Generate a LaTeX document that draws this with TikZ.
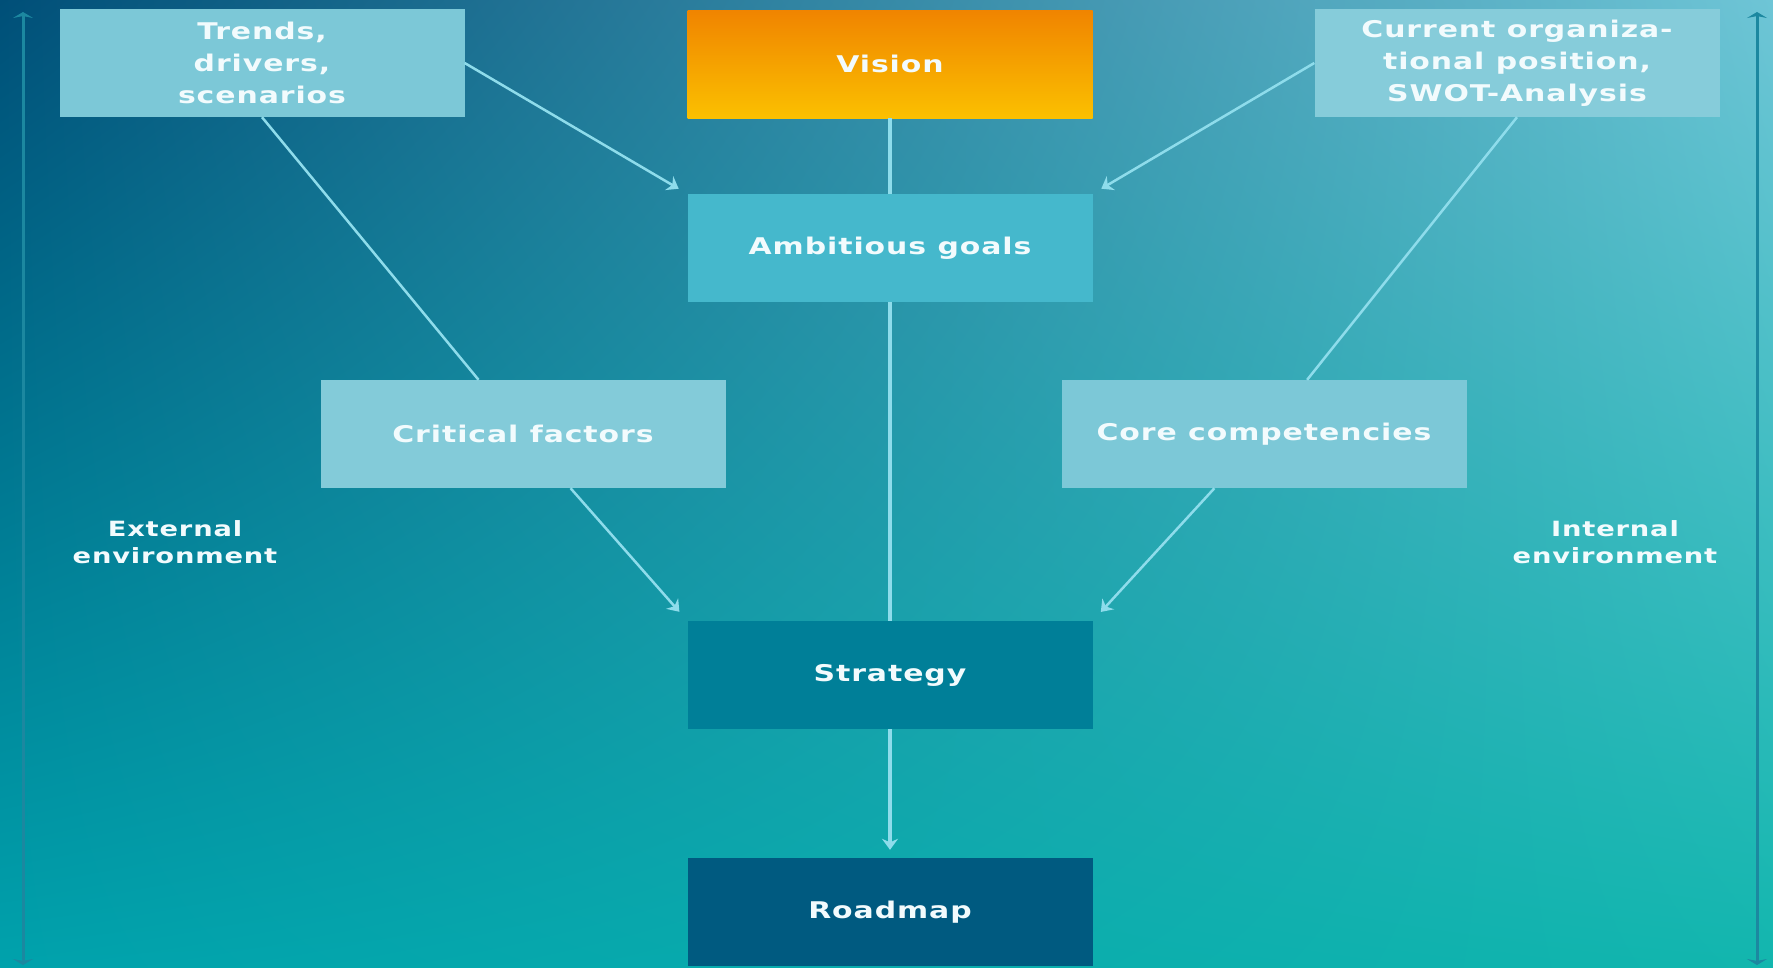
\documentclass[tikz,border=0pt]{standalone}
\usepackage{fontspec}
\newfontfamily\boxfont[FakeStretch=1.3,LetterSpace=4]{DejaVu Sans}
\usetikzlibrary{arrows.meta,shadings}

\definecolor{bgtl}{HTML}{004F78}
\definecolor{bgtr}{HTML}{6EC5D6}
\definecolor{bgbl}{HTML}{00A2AC}
\definecolor{bgbr}{HTML}{12B6AE}
\definecolor{lightbox}{HTML}{7CC8D7}
\definecolor{goalbox}{HTML}{45B8CC}
\definecolor{stratbox}{HTML}{007F98}
\definecolor{roadbox}{HTML}{005A80}
\definecolor{visiontop}{HTML}{F08400}
\definecolor{visionbot}{HTML}{FBC000}
\definecolor{linkcol}{HTML}{8EDCEB}
\definecolor{sidecol}{HTML}{1C88A0}
\definecolor{boxtext}{HTML}{F2FBFD}

\tikzset{
	box/.style={rectangle,minimum width=405pt,minimum height=108pt,inner sep=0pt,
		align=center,text=boxtext,font=\boxfont\bfseries\fontsize{23}{32}\selectfont},
	sidetext/.style={align=center,text=boxtext,font=\boxfont\bfseries\fontsize{21}{27}\selectfont},
	link/.style={draw=linkcol,line width=2.5pt},
	spine/.style={draw=linkcol,line width=4pt},
	sidearrow/.style={draw=sidecol,line width=3pt,{Stealth[length=6pt,width=20pt]}-{Stealth[length=6pt,width=20pt]}}
}

\begin{document}
\begin{tikzpicture}[x=1pt,y=-1pt,>={Stealth[length=11pt,width=16pt]}]

	\useasboundingbox (0,0) rectangle (1773,967);
	\shade[upper left=bgtl,upper right=bgtr,lower left=bgbl,lower right=bgbr] (0,0) rectangle (1773,967);

	\node[box,fill=lightbox] (trends) at (262,63) {Trends,\\drivers,\\scenarios};
	\node[box,top color=visiontop,bottom color=visionbot] (vision) at (890,64) {Vision};
	\node[box,fill=lightbox!92!white] (current) at (1517,63) {Current organiza-\\tional position,\\SWOT-Analysis};
	\node[box,fill=goalbox] (goals) at (890,248) {Ambitious goals};
	\node[box,fill=lightbox!95!white] (critical) at (523,434) {Critical factors};
	\node[box,fill=lightbox] (core) at (1264,434) {Core competencies};
	\node[box,fill=stratbox] (strategy) at (890,675) {Strategy};
	\node[box,fill=roadbox] (roadmap) at (890,912) {Roadmap};

	\node[sidetext] (external) at (175,542) {External\\environment};
	\node[sidetext] (internal) at (1615,542) {Internal\\environment};

	\coordinate (ltop) at (23,12);
	\coordinate (lbot) at (23,965);
	\coordinate (rtop) at (1757,12);
	\coordinate (rbot) at (1757,965);
	\draw[sidearrow] (ltop) -- (lbot);
	\draw[sidearrow] (rtop) -- (rbot);

	\draw[spine] (vision) -- (goals);
	\draw[spine] (goals) -- (strategy);
	\draw[spine,->,shorten >=8pt] (strategy) -- (roadmap);

	\draw[link,->,shorten >=10pt] (trends.east) -- (goals.north west);
	\draw[link,->,shorten >=10pt] (current.west) -- (goals.north east);
	\draw[link] (trends.south) -- (critical);
	\draw[link] (current.south) -- (core);
	\draw[link,->,shorten >=12pt] (critical) -- (strategy.north west);
	\draw[link,->,shorten >=12pt] (core) -- (strategy.north east);

\end{tikzpicture}
\end{document}
